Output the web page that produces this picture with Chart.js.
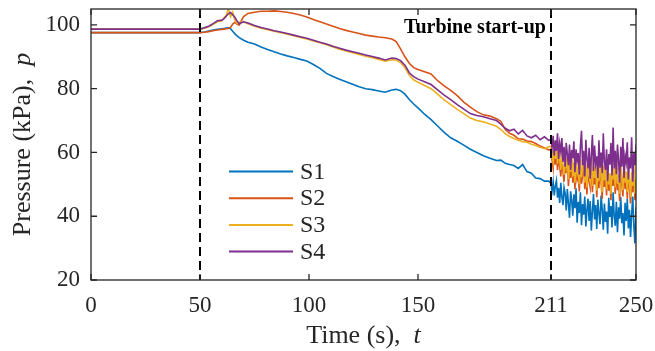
<!DOCTYPE html>
<html>
<head>
<meta charset="utf-8">
<script src="https://cdn.jsdelivr.net/npm/chart.js@4.4.0/dist/chart.umd.min.js"></script>
<style>
  html, body { margin: 0; padding: 0; background: #fff; }
</style>
</head>
<body>
<canvas id="c" width="655" height="351"></canvas>
<script>
// time axis (s): smooth part sampled unevenly, noisy part every half second
const tMain = [0, 50, 52, 54, 56, 58, 60, 61, 62, 63,
  64, 65, 66, 67, 68, 70, 72, 75, 78, 81,
  84, 87, 90, 93, 96, 99, 102, 105, 108, 111,
  114, 117, 120, 123, 126, 129, 132, 135, 138, 140,
  142, 144, 146, 148, 150, 153, 156, 159, 162, 165,
  168, 171, 174, 177, 180, 183, 186, 188, 190, 192,
  194, 196, 198, 200, 202, 204, 206, 208, 210];
const tNoise = [211, 211.5, 212, 212.5, 213, 213.5, 214, 214.5, 215, 215.5,
  216, 216.5, 217, 217.5, 218, 218.5, 219, 219.5, 220, 220.5,
  221, 221.5, 222, 222.5, 223, 223.5, 224, 224.5, 225, 225.5,
  226, 226.5, 227, 227.5, 228, 228.5, 229, 229.5, 230, 230.5,
  231, 231.5, 232, 232.5, 233, 233.5, 234, 234.5, 235, 235.5,
  236, 236.5, 237, 237.5, 238, 238.5, 239, 239.5, 240, 240.5,
  241, 241.5, 242, 242.5, 243, 243.5, 244, 244.5, 245, 245.5,
  246, 246.5, 247, 247.5, 248, 248.5, 249, 249.5, 250];

// pressure (kPa)
const s1Main = [97.6, 97.6, 97.8, 98.1, 98.4, 98.6, 98.8, 98.9, 99.0, 99.1,
  98.8, 98.0, 97.2, 96.6, 96.0, 95.2, 94.6, 94.0, 93.1, 92.3,
  91.6, 90.9, 90.3, 89.8, 89.2, 88.7, 87.6, 86.4, 84.8, 83.8,
  83.0, 82.2, 81.4, 80.6, 80.0, 79.7, 79.3, 78.9, 79.6, 79.8,
  79.4, 78.3, 76.6, 75.2, 74.0, 72.0, 70.3, 68.3, 66.3, 64.6,
  63.5, 62.3, 61.0, 60.0, 59.0, 58.2, 57.5, 57.6, 56.6, 56.2,
  55.9, 55.0, 56.2, 54.0, 53.5, 52.0, 51.8, 51.0, 51.0];
const s1Noise = [50.3, 48.0, 50.8, 46.5, 49.5, 51.2, 45.8, 48.9, 44.2, 50.5,
  46.0, 43.5, 49.0, 47.2, 41.8, 48.5, 44.0, 39.5, 47.8, 45.0,
  40.2, 46.9, 42.5, 48.8, 38.0, 44.5, 41.0, 47.5, 37.2, 43.8,
  40.5, 46.2, 36.8, 42.0, 45.5, 38.5, 44.8, 35.5, 41.5, 47.0,
  39.0, 43.5, 36.0, 45.2, 40.8, 37.5, 46.5, 42.2, 35.8, 44.0,
  38.2, 41.5, 34.5, 45.8, 39.8, 43.2, 36.5, 47.5, 40.0, 37.0,
  44.5, 35.0, 42.8, 39.2, 46.0, 37.8, 41.0, 34.0, 44.2, 38.5,
  45.5, 36.2, 42.0, 33.5, 40.5, 46.2, 37.0, 31.5, 43.0];

const s2Main = [97.6, 97.6, 97.7, 97.9, 98.2, 98.4, 98.6, 98.7, 98.8, 98.9,
  99.2, 100.3, 100.8, 100.2, 100.0, 102.6, 103.6, 104.0, 104.3, 104.3,
  104.4, 104.2, 104.0, 103.6, 103.1, 102.5, 101.7, 101.0, 100.3, 99.6,
  98.9, 98.3, 97.8, 97.3, 96.8, 96.5, 96.2, 96.0, 95.6, 94.8,
  92.5, 90.0, 88.0, 86.6, 86.0, 85.3, 84.6, 82.5, 80.9, 79.5,
  77.8, 75.8, 74.2, 72.8, 71.8, 71.4, 70.6, 69.8, 67.2, 66.0,
  65.4, 64.3, 64.2, 63.6, 63.4, 62.8, 62.0, 61.4, 60.8];
const s2Noise = [61.0, 57.5, 55.0, 59.8, 56.2, 60.2, 54.5, 58.5, 55.8, 52.5,
  58.0, 54.0, 50.8, 57.2, 53.5, 56.8, 49.5, 55.0, 52.0, 57.8,
  50.5, 54.8, 48.5, 56.5, 51.5, 53.0, 47.8, 55.8, 50.2, 52.8,
  57.5, 48.5, 54.2, 46.8, 55.5, 51.0, 49.0, 56.8, 47.5, 53.5,
  50.0, 55.2, 46.0, 52.5, 48.8, 57.0, 50.5, 45.5, 54.0, 49.2,
  53.8, 46.5, 56.2, 48.0, 51.5, 45.0, 55.0, 49.5, 52.8, 47.0,
  56.0, 48.2, 51.0, 44.8, 54.5, 50.0, 46.2, 55.8, 48.5, 52.0,
  45.5, 53.5, 49.0, 44.0, 51.8, 47.5, 54.5, 45.0, 49.5];

const s3Main = [98.7, 98.7, 99.0, 99.4, 100.2, 101.0, 101.3, 102.2, 103.0, 105.0,
  102.6, 104.0, 101.5, 100.4, 100.8, 100.9, 100.4, 99.6, 99.0, 98.5,
  98.0, 97.6, 97.1, 96.6, 96.1, 95.6, 95.0, 94.4, 93.8, 93.1,
  92.4, 91.8, 91.3, 90.7, 90.2, 89.7, 89.2, 88.6, 89.1, 89.0,
  88.2, 86.6, 84.2, 82.8, 82.0, 81.0, 80.0, 78.3, 76.5, 75.0,
  73.5, 72.2, 70.8, 70.0, 69.6, 68.9, 68.2, 67.2, 65.9, 65.0,
  64.4, 63.8, 63.4, 63.2, 62.6, 62.2, 61.6, 61.2, 61.8];
const s3Noise = [62.0, 59.5, 57.0, 61.2, 58.0, 61.8, 56.5, 60.0, 57.8, 54.5,
  59.8, 56.0, 53.0, 59.0, 55.5, 58.5, 51.5, 57.0, 54.0, 59.5,
  52.5, 56.8, 50.5, 58.5, 53.5, 55.0, 50.0, 57.8, 52.2, 55.0,
  59.5, 50.5, 56.2, 49.0, 57.5, 53.0, 51.0, 58.8, 49.5, 55.5,
  52.0, 57.2, 48.0, 54.5, 51.0, 59.0, 52.5, 47.5, 56.0, 51.2,
  56.0, 48.5, 58.2, 50.0, 53.5, 47.0, 57.0, 51.5, 55.0, 49.0,
  58.0, 50.2, 53.0, 47.0, 56.5, 52.0, 48.2, 57.8, 50.5, 54.0,
  47.5, 55.5, 51.0, 46.0, 53.8, 49.5, 56.5, 47.0, 51.5];

const s4Main = [98.7, 98.7, 99.1, 99.6, 100.4, 101.3, 101.5, 102.0, 102.7, 103.5,
  103.9, 103.2, 102.4, 101.2, 100.4, 101.0, 100.6, 99.8, 99.2, 98.7,
  98.2, 97.8, 97.3, 96.8, 96.3, 95.8, 95.2, 94.6, 94.0, 93.3,
  92.7, 92.1, 91.6, 91.1, 90.6, 90.1, 89.6, 89.0, 89.6, 89.5,
  88.8, 87.4, 85.0, 83.8, 83.0, 82.2, 81.3, 79.6, 78.0, 76.6,
  75.0, 73.6, 72.2, 71.6, 71.2, 70.6, 70.0, 68.9, 67.6, 66.8,
  67.3, 65.8, 66.9, 65.2, 64.6, 65.4, 64.0, 64.9, 63.8];
const s4Noise = [64.0, 61.5, 65.2, 59.0, 63.8, 60.5, 66.0, 58.0, 62.8, 60.2,
  64.5, 57.0, 61.8, 55.5, 63.0, 59.5, 56.0, 62.5, 54.5, 60.8,
  58.2, 63.5, 53.8, 61.0, 57.5, 59.8, 53.0, 62.0, 66.8, 56.0,
  60.5, 52.5, 64.0, 57.8, 55.0, 61.5, 51.8, 59.0, 65.5, 54.2,
  62.2, 56.5, 58.8, 52.0, 63.8, 55.2, 60.0, 53.5, 66.0, 57.0,
  54.5, 61.0, 51.0, 59.5, 56.2, 63.0, 52.8, 67.8, 55.0, 60.5,
  53.2, 62.5, 57.5, 50.5, 61.8, 55.5, 64.5, 52.0, 59.0, 56.8,
  63.2, 51.5, 58.5, 55.0, 64.8, 50.8, 60.0, 56.0, 62.5];

const seriesNames = ['S1', 'S2', 'S3', 'S4'];
const seriesColors = ['#0072BD', '#D95319', '#EDB120', '#7E2F8E'];
const xTicks = [0, 50, 100, 150, 211, 250];
const yTicks = [20, 40, 60, 80, 100];
const markerTimes = [50, 211];
const markerText = 'Turbine start-up';

const SERIF = '"Liberation Serif", "Times New Roman", serif';
const AXIS = '#262626';

const tAll = tMain.concat(tNoise);
const allSeries = [s1Main.concat(s1Noise), s2Main.concat(s2Noise),
                   s3Main.concat(s3Noise), s4Main.concat(s4Noise)];

// draw a run of text pieces with different fonts, centred on cx
function drawParts(ctx, parts, cx, cy) {
  let w = 0;
  parts.forEach(p => { ctx.font = p.font; w += ctx.measureText(p.text).width; });
  let x = cx - w / 2;
  parts.forEach(p => {
    ctx.font = p.font;
    ctx.fillText(p.text, x, cy);
    x += ctx.measureText(p.text).width;
  });
}

const overlay = {
  id: 'overlay',
  afterDatasetsDraw(chart) {
    const { ctx, chartArea: a, scales: { x } } = chart;
    ctx.save();
    ctx.strokeStyle = '#000';
    ctx.lineWidth = 2;
    ctx.setLineDash([9, 5]);
    markerTimes.forEach(v => {
      const px = Math.round(x.getPixelForValue(v));
      ctx.beginPath();
      ctx.moveTo(px, a.top);
      ctx.lineTo(px, a.bottom);
      ctx.stroke();
    });
    ctx.restore();
  },
  afterDraw(chart) {
    const { ctx, chartArea: a, scales: { x, y } } = chart;
    ctx.save();

    // box + inward ticks
    ctx.strokeStyle = AXIS;
    ctx.lineWidth = 1.3;
    ctx.strokeRect(a.left, a.top, a.right - a.left, a.bottom - a.top);
    const tl = 6;
    ctx.beginPath();
    xTicks.forEach(v => {
      const px = x.getPixelForValue(v);
      ctx.moveTo(px, a.bottom); ctx.lineTo(px, a.bottom - tl);
      ctx.moveTo(px, a.top); ctx.lineTo(px, a.top + tl);
    });
    yTicks.forEach(v => {
      const py = y.getPixelForValue(v);
      ctx.moveTo(a.left, py); ctx.lineTo(a.left + tl, py);
      ctx.moveTo(a.right, py); ctx.lineTo(a.right - tl, py);
    });
    ctx.stroke();

    // axis titles
    ctx.fillStyle = AXIS;
    ctx.textBaseline = 'alphabetic';
    ctx.textAlign = 'left';
    drawParts(ctx, [
      { text: 'Time (s),  ', font: '26px ' + SERIF },
      { text: 't', font: 'italic 26px ' + SERIF }
    ], (a.left + a.right) / 2, 343);
    ctx.save();
    ctx.translate(30, (a.top + a.bottom) / 2);
    ctx.rotate(-Math.PI / 2);
    drawParts(ctx, [
      { text: 'Pressure (kPa),  ', font: '26px ' + SERIF },
      { text: 'p', font: 'italic 26px ' + SERIF }
    ], 0, 0);
    ctx.restore();

    // annotation
    ctx.fillStyle = '#000';
    ctx.font = 'bold 20px ' + SERIF;
    ctx.textAlign = 'right';
    ctx.fillText(markerText, x.getPixelForValue(211) - 5, 33);

    // legend
    ctx.textAlign = 'left';
    ctx.textBaseline = 'middle';
    ctx.font = '24px ' + SERIF;
    seriesNames.forEach((name, i) => {
      const ly = 171.5 + i * 26.7;
      ctx.strokeStyle = seriesColors[i];
      ctx.lineWidth = 2;
      ctx.beginPath();
      ctx.moveTo(229, ly);
      ctx.lineTo(293, ly);
      ctx.stroke();
      ctx.fillStyle = AXIS;
      ctx.fillText(name, 300, ly + 1);
    });

    ctx.restore();
  }
};

new Chart(document.getElementById('c'), {
  type: 'line',
  data: {
    datasets: allSeries.map((vals, i) => ({
      label: seriesNames[i],
      data: tAll.map((t, k) => ({ x: t, y: vals[k] })),
      borderColor: seriesColors[i],
      borderWidth: 1.6,
      pointRadius: 0,
      tension: 0,
      fill: false,
      order: 4 - i
    }))
  },
  options: {
    responsive: false,
    animation: false,
    events: [],
    layout: { padding: { top: 9, right: 19, left: 0, bottom: 0 } },
    plugins: { legend: { display: false }, tooltip: { enabled: false } },
    scales: {
      x: {
        type: 'linear', min: 0, max: 250,
        afterBuildTicks: s => { s.ticks = xTicks.map(v => ({ value: v })); },
        afterFit: s => { s.height = 71; s.paddingLeft = 0; s.paddingRight = 0; },
        grid: { display: false, drawTicks: false },
        border: { display: false },
        ticks: { font: { family: SERIF, size: 23 }, color: AXIS, padding: 12, maxRotation: 0, autoSkip: false }
      },
      y: {
        type: 'linear', min: 20, max: 105,
        afterBuildTicks: s => { s.ticks = yTicks.map(v => ({ value: v })); },
        afterFit: s => { s.width = 91; s.paddingTop = 0; s.paddingBottom = 0; },
        grid: { display: false, drawTicks: false },
        border: { display: false },
        ticks: { font: { family: SERIF, size: 23 }, color: AXIS, padding: 11 }
      }
    }
  },
  plugins: [overlay]
});
</script>
</body>
</html>
